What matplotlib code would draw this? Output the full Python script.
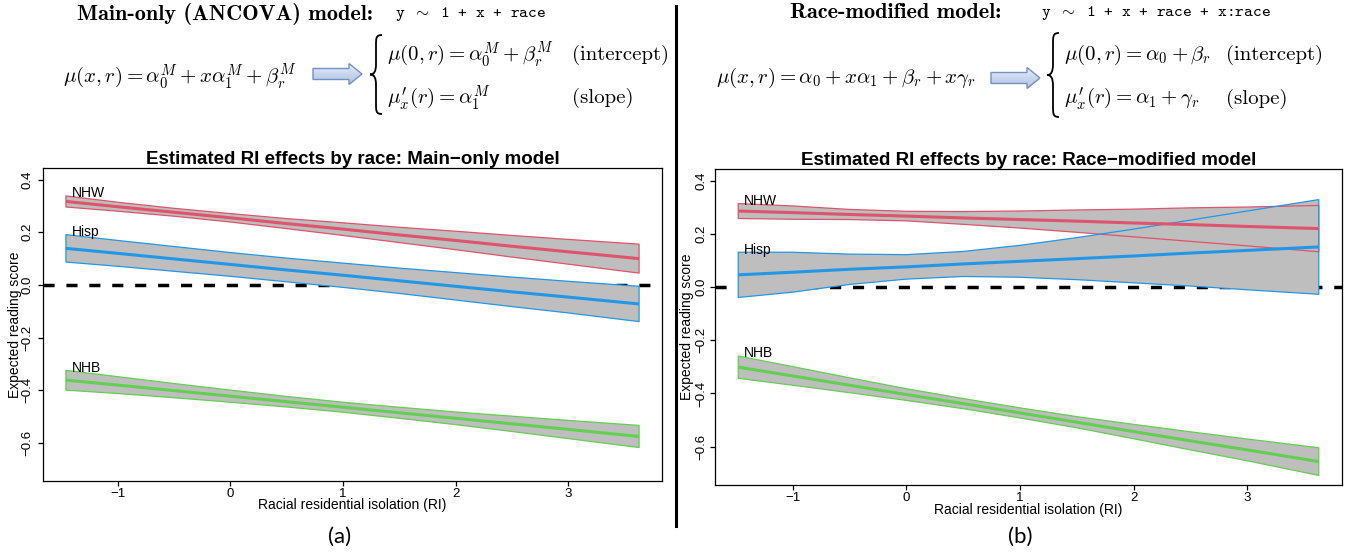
import numpy as np
import matplotlib
matplotlib.use("Agg")
import matplotlib.pyplot as plt
from matplotlib.path import Path
from matplotlib.patches import PathPatch, Polygon

plt.rcParams['font.family'] = ['Liberation Sans', 'DejaVu Sans']
plt.rcParams['mathtext.fontset'] = 'cm'

race_colors = {"NHW": "#DF536B", "Hisp": "#2297E6", "NHB": "#61D04F"}

# ---- main-only (ANCOVA) model ----
ri_main = [-1.46, -1.0, -0.5, 0.0, 0.5, 1.0, 1.5, 2.0, 2.5, 3.0, 3.63]
main_nhw_fit = [0.317, 0.297, 0.276, 0.255, 0.233, 0.212, 0.190, 0.169, 0.147, 0.126, 0.100]
main_nhw_hi = [0.338, 0.314, 0.291, 0.271, 0.252, 0.236, 0.219, 0.204, 0.188, 0.173, 0.155]
main_nhw_lo = [0.296, 0.280, 0.261, 0.239, 0.214, 0.188, 0.161, 0.134, 0.106, 0.079, 0.045]
main_hisp_fit = [0.139, 0.120, 0.099, 0.078, 0.057, 0.037, 0.016, -0.005, -0.026, -0.046, -0.072]
main_hisp_hi = [0.191, 0.169, 0.146, 0.123, 0.102, 0.083, 0.064, 0.047, 0.030, 0.014, -0.005]
main_hisp_lo = [0.087, 0.071, 0.052, 0.033, 0.012, -0.009, -0.032, -0.057, -0.082, -0.106, -0.139]
main_nhb_fit = [-0.361, -0.380, -0.401, -0.422, -0.443, -0.464, -0.485, -0.506, -0.527, -0.548, -0.575]
main_nhb_hi = [-0.324, -0.348, -0.374, -0.399, -0.423, -0.445, -0.464, -0.482, -0.498, -0.514, -0.533]
main_nhb_lo = [-0.399, -0.412, -0.428, -0.445, -0.463, -0.483, -0.506, -0.530, -0.556, -0.583, -0.617]

# ---- race-modified model ----
ri_mod = [-1.48, -1.0, -0.5, 0.0, 0.5, 1.0, 1.5, 2.0, 2.5, 3.0, 3.63]
mod_nhw_fit = [0.286, 0.280, 0.273, 0.267, 0.260, 0.254, 0.248, 0.241, 0.235, 0.228, 0.220]
mod_nhw_hi = [0.314, 0.305, 0.292, 0.285, 0.284, 0.286, 0.290, 0.293, 0.298, 0.301, 0.307]
mod_nhw_lo = [0.258, 0.255, 0.254, 0.249, 0.236, 0.222, 0.206, 0.189, 0.172, 0.155, 0.133]
mod_hisp_fit = [0.046, 0.056, 0.067, 0.076, 0.087, 0.097, 0.107, 0.117, 0.128, 0.138, 0.151]
mod_hisp_hi = [0.131, 0.131, 0.124, 0.122, 0.134, 0.157, 0.186, 0.218, 0.252, 0.286, 0.329]
mod_hisp_lo = [-0.039, -0.019, 0.010, 0.030, 0.040, 0.037, 0.028, 0.016, 0.004, -0.010, -0.027]
mod_nhb_fit = [-0.301, -0.334, -0.369, -0.404, -0.438, -0.473, -0.508, -0.543, -0.578, -0.612, -0.656]
mod_nhb_hi = [-0.259, -0.299, -0.341, -0.382, -0.419, -0.454, -0.487, -0.516, -0.544, -0.571, -0.604]
mod_nhb_lo = [-0.343, -0.369, -0.397, -0.426, -0.457, -0.492, -0.529, -0.570, -0.612, -0.653, -0.708]

x_ticks = [-1, 0, 1, 2, 3]
x_tick_labels = ["\u22121", "0", "1", "2", "3"]
y_ticks = [-0.6, -0.4, -0.2, 0.0, 0.2, 0.4]
y_tick_labels = ["\u22120.6", "\u22120.4", "\u22120.2", "0.0", "0.2", "0.4"]
y_range = (-0.7, 0.4)


def r_lim(lo, hi):
    pad = 0.04 * (hi - lo)
    return lo - pad, hi + pad


def draw_panel(ax, x, bands, title, tick_pad, ylab_off, xlab_off):
    ax.axhline(0, color="black", lw=2.5, dashes=(3.2, 3.4), zorder=1)
    for name, fit, lo, hi in bands:
        ax.fill_between(x, lo, hi, facecolor="#BEBEBE", edgecolor="none", zorder=2)
    for name, fit, lo, hi in bands:
        col = race_colors[name]
        ax.fill_between(x, lo, hi, facecolor="none", edgecolor=col, lw=0.9, zorder=3)
    for name, fit, lo, hi in bands:
        col = race_colors[name]
        ax.plot(x, fit, color=col, lw=2.2, zorder=4, solid_capstyle="butt")
        ax.text(x[0] + 0.05, hi[0] + 0.01, name, ha="left", va="center",
                fontsize=10, zorder=5)
    ax.set_xlim(*r_lim(min(x), max(x)))
    ax.set_ylim(*r_lim(*y_range))
    ax.set_xticks(x_ticks)
    ax.set_xticklabels(x_tick_labels, fontsize=9.5)
    ax.set_yticks(y_ticks)
    ax.set_yticklabels(y_tick_labels, fontsize=9.5, rotation=90, va="center")
    ax.tick_params(axis="x", direction="out", length=3.8, width=0.9, pad=1)
    ax.tick_params(axis="y", direction="out", length=3.8, width=0.9, pad=tick_pad)
    for s in ax.spines.values():
        s.set_linewidth(0.9)
    ax.set_title(title, fontsize=13.5, fontweight="bold", pad=2.5)
    ax.set_xlabel("Racial residential isolation (RI)", fontsize=10, va="center")
    ax.set_ylabel("Expected reading score", fontsize=10, va="center")
    ax.xaxis.set_label_coords(0.5, xlab_off)
    ax.yaxis.set_label_coords(ylab_off, 0.5)


def draw_brace(ax, x, y0, y1, w):
    ym = (y0 + y1) / 2
    h = 0.13 * (y1 - y0)
    verts = [
        (x + w * 0.5, y0),
        (x, y0), (x, y0 + h * 0.3), (x, y0 + h),
        (x, ym - h),
        (x, ym - h * 0.3), (x - w * 0.15, ym), (x - w * 0.5, ym),
        (x - w * 0.15, ym), (x, ym + h * 0.3), (x, ym + h),
        (x, y1 - h),
        (x, y1 - h * 0.3), (x, y1), (x + w * 0.5, y1),
    ]
    codes = [Path.MOVETO,
             Path.CURVE4, Path.CURVE4, Path.CURVE4,
             Path.LINETO,
             Path.CURVE4, Path.CURVE4, Path.CURVE4,
             Path.CURVE4, Path.CURVE4, Path.CURVE4,
             Path.LINETO,
             Path.CURVE4, Path.CURVE4, Path.CURVE4]
    ax.add_patch(PathPatch(Path(verts, codes), facecolor="none",
                           edgecolor="black", lw=1.3))


def draw_arrow(ax, x0, x1, yc):
    body = 5.5
    head = 10.5
    xh = x1 - 13
    pts = [(x0, yc - body), (xh, yc - body), (xh, yc - head), (x1, yc),
           (xh, yc + head), (xh, yc + body), (x0, yc + body)]
    poly = Polygon(pts, closed=True, facecolor="none", edgecolor="#7390C4", lw=1.0, zorder=3)
    ax.add_patch(poly)
    grad = np.linspace(0, 1, 64).reshape(-1, 1)
    im = ax.imshow(grad, cmap=matplotlib.colors.LinearSegmentedColormap.from_list(
        "arr", ["#EEF2FA", "#C9D7EE", "#AFC3E4"]),
        extent=(x0, x1, yc + head, yc - head), aspect="auto", zorder=2)
    im.set_clip_path(poly)


fig = plt.figure(figsize=(13.48, 5.52), dpi=100)

# overlay in pixel coordinates for headings, equations and separators
ov = fig.add_axes([0, 0, 1, 1])
ov.set_xlim(0, 1348)
ov.set_ylim(552, 0)
ov.axis("off")

ov.plot([676, 676], [6, 526], color="black", lw=2.2)

eq_size = 15

# left heading and equations
ov.text(77, 14, "Main-only (ANCOVA) model:", family="cmb10", fontsize=16, va="center")
ov.text(395, 14, r"y $\sim$ 1 + x + race", family="cmtt10", fontsize=12, va="center")
ov.text(63, 77, r"$\mu(x,r) = \alpha_0^M + x\alpha_1^M + \beta_r^M$", fontsize=eq_size, va="center")
draw_arrow(ov, 313, 362, 74)
draw_brace(ov, 376, 35, 114, 12)
ov.text(387, 55, r"$\mu(0,r) = \alpha_0^M + \beta_r^M$", fontsize=eq_size, va="center")
ov.text(572, 55, "(intercept)", family="cmr10", fontsize=eq_size, va="center")
ov.text(387, 98, r"$\mu^{\prime}_x(r) = \alpha_1^M$", fontsize=eq_size, va="center")
ov.text(572, 98, "(slope)", family="cmr10", fontsize=eq_size, va="center")

# right heading and equations
ov.text(790, 13, "Race-modified model:", family="cmb10", fontsize=16, va="center")
ov.text(1041, 13, r"y $\sim$ 1 + x + race + x:race", family="cmtt10", fontsize=12, va="center")
ov.text(716, 78, r"$\mu(x,r) = \alpha_0 + x\alpha_1 + \beta_r + x\gamma_r$", fontsize=eq_size, va="center")
draw_arrow(ov, 991, 1040, 78)
draw_brace(ov, 1053, 33, 117, 12)
ov.text(1064, 55, r"$\mu(0,r) = \alpha_0 + \beta_r$", fontsize=eq_size, va="center")
ov.text(1226, 55, "(intercept)", family="cmr10", fontsize=eq_size, va="center")
ov.text(1064, 99, r"$\mu^{\prime}_x(r) = \alpha_1 + \gamma_r$", fontsize=eq_size, va="center")
ov.text(1226, 99, "(slope)", family="cmr10", fontsize=eq_size, va="center")

ov.text(340, 537, "(a)", family=["Lato", "DejaVu Sans"], fontsize=16, ha="center", va="center")
ov.text(1020, 537, "(b)", family=["Lato", "DejaVu Sans"], fontsize=16, ha="center", va="center")

ax1 = fig.add_axes([43 / 1348, 1 - 481 / 552, 619 / 1348, 313 / 552])
draw_panel(ax1, ri_main,
           [("NHW", main_nhw_fit, main_nhw_lo, main_nhw_hi),
            ("Hisp", main_hisp_fit, main_hisp_lo, main_hisp_hi),
            ("NHB", main_nhb_fit, main_nhb_lo, main_nhb_hi)],
           "Estimated RI effects by race: Main\u2212only model",
           tick_pad=3.0, ylab_off=-28 / 619, xlab_off=-24 / 313)

ax2 = fig.add_axes([715 / 1348, 1 - 485 / 552, 627 / 1348, 316 / 552])
draw_panel(ax2, ri_mod,
           [("NHW", mod_nhw_fit, mod_nhw_lo, mod_nhw_hi),
            ("Hisp", mod_hisp_fit, mod_hisp_lo, mod_hisp_hi),
            ("NHB", mod_nhb_fit, mod_nhb_lo, mod_nhb_hi)],
           "Estimated RI effects by race: Race\u2212modified model",
           tick_pad=1.5, ylab_off=-28.5 / 627, xlab_off=-25 / 316)

fig.savefig("out.png", dpi=100)
